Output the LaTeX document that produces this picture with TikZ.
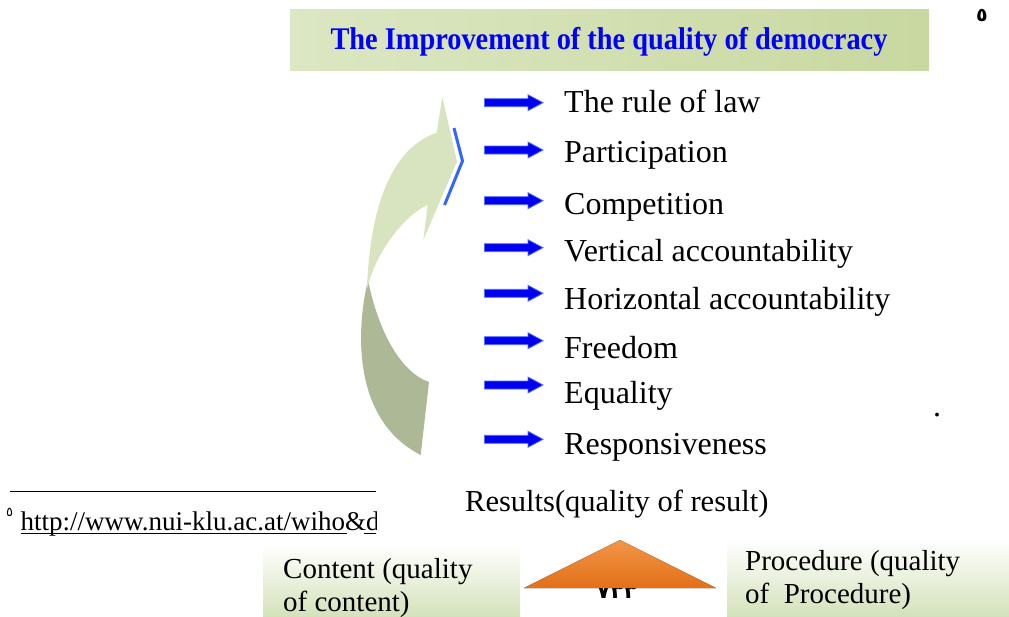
\documentclass[tikz,border=0pt]{standalone}
\usepackage{fontspec}
\usepackage{graphicx}
\setmainfont{Liberation Serif}
\newfontfamily\arabicfont[Script=Arabic]{DejaVu Sans}
\definecolor{titleblue}{RGB}{0,0,255}
\definecolor{arrowblue}{RGB}{0,0,240}
\definecolor{arrowedge}{RGB}{80,110,255}
\definecolor{bracketblue}{RGB}{51,102,255}
\definecolor{lightband}{RGB}{216,228,191}
\definecolor{darkband}{RGB}{173,184,151}
\definecolor{gA}{RGB}{220,231,195}
\definecolor{gB}{RGB}{238,243,226}
\definecolor{gC}{RGB}{200,216,160}
\definecolor{gBottom}{RGB}{212,226,186}
\definecolor{orTop}{RGB}{242,150,72}
\definecolor{orBot}{RGB}{226,112,24}
\tikzset{
  blockarrow/.style={fill=arrowblue, draw=arrowedge, line width=0.8pt, line join=miter},
  item/.style={anchor=base west, inner sep=0pt, font=\fontsize{32}{38}\selectfont},
  greenbox/.style={top color=white, bottom color=gBottom, draw=none, inner sep=0pt, outer sep=0pt},
  boxtext/.style={anchor=base west, inner sep=0pt, align=left, font=\fontsize{29}{33}\selectfont}
}
\begin{document}
\begin{tikzpicture}[x=1pt,y=-1pt]
\useasboundingbox (0,0) rectangle (1009,616);
% title band
\node[left color=gA, middle color=gB, right color=gC, minimum width=639pt, minimum height=61pt, inner sep=0pt] (band) at (609.5,39.5) {};
\node[anchor=base, inner sep=0pt, text=titleblue, font=\bfseries\fontsize{31.5}{36}\selectfont] (title) at (609,49) {\scalebox{0.9}[1]{The Improvement of the quality of democracy}};
\node[anchor=base, inner sep=0pt, font=\arabicfont\bfseries\fontsize{19}{22}\selectfont] (pg) at (982,21) {٥};
% curved arrow
\fill[darkband] (368,280) .. controls (356,330) and (352,420) .. (420.7,455) -- (429,382) .. controls (400,372) and (378,330) .. (368,280) -- cycle;
\fill[lightband] (442.3,96.7) -- (457,161.7) -- (423.3,240) -- (427.7,205) .. controls (410,212) and (378,245) .. (367,289) .. controls (370,205) and (392,148) .. (436.7,132.7) -- cycle;
\draw[bracketblue, line width=3pt] (454,128) -- (462.5,161) -- (444.5,205);
% items
\foreach \i/\y/\b/\t in {1/102.7/112/The rule of law, 2/150/162/Participation, 3/200.7/214/Competition, 4/247.7/261/Vertical accountability, 5/293.3/309/Horizontal accountability, 6/340.7/358/Freedom, 7/385/403/Equality, 8/439.3/454/Responsiveness}{
  \coordinate (a\i) at (484.5,\y);
  \draw[blockarrow] (a\i) ++(0,-4) -- ++(43.5,0) -- ++(0,-4) -- ++(15,8) -- ++(-15,8) -- ++(0,-4) -- ++(-43.5,0) -- cycle;
  \node[item] (t\i) at (564,\b) {\t};
}
\node[item] (dot) at (933,416) {.};
% results
\node[anchor=base west, inner sep=0pt, font=\fontsize{30.5}{36}\selectfont] (res) at (465,511) {Results(quality of result)};
% footnote
\draw[line width=1.5pt] (10,491.7) coordinate (fl) -- (376,491.7) coordinate (fr);
\node[anchor=base west, inner sep=0pt, font=\arabicfont\fontsize{13}{15}\selectfont] (fnm) at (6,516) {٥};
\begin{scope}
\clip (0,496) rectangle (376,545);
\node[anchor=base west, inner sep=0pt, font=\fontsize{27}{32}\selectfont] (url) at (20.5,530) {http://www.nui-klu.ac.at/wiho\&d};
\draw[line width=1.2pt] (url.base west) ++(0,3.3) -- ++(326.5,0);
\draw[line width=1.2pt] (url.base west) ++(343.5,3.3) -- ++(20,0);
\end{scope}
% bottom boxes
\node[greenbox, minimum width=257pt, minimum height=71pt] (content) at (391.5,580.5) {};
\node[boxtext] (ct) at (283,611) {Content (quality\\of content)};
\node[greenbox, minimum width=282pt, minimum height=76pt] (proc) at (868,578) {};
\node[boxtext] (pt) at (745,603) {Procedure (quality\\of\ \ Procedure)};
\node[anchor=base, inner sep=0pt, font=\arabicfont\bfseries\fontsize{22}{26}\selectfont] (pnum) at (617,598) {٧٣٣};
\fill[top color=orTop, bottom color=orBot] (620,540) coordinate (tri) -- (716,588) -- (524,588) -- cycle;
\end{tikzpicture}
\end{document}
